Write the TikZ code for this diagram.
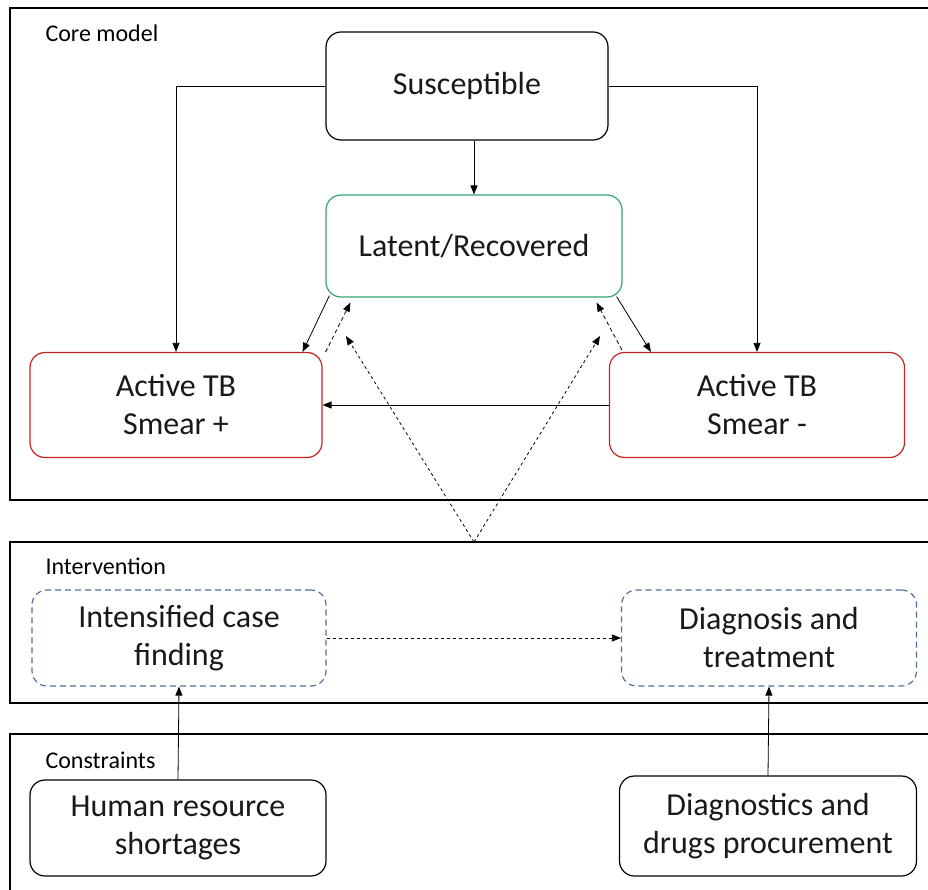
\documentclass[tikz,border=0pt]{standalone}
\usepackage{fontspec}
\setmainfont{Carlito}
\usetikzlibrary{arrows.meta,calc}
\definecolor{latgreen}{RGB}{50,165,110}
\definecolor{actred}{RGB}{200,35,35}
\definecolor{intblue}{RGB}{80,110,160}
\begin{document}
\begin{tikzpicture}[x=1pt, y=-1pt,
        frame/.style={draw, line width=1.4pt},
        state/.style={draw, line width=1.2pt, rounded corners=15pt, align=center,
            font=\fontsize{32}{38}\selectfont, text=black!90},
        interv/.style={state, draw=intblue, dash pattern=on 6pt off 4pt},
        flow/.style={-{Triangle[length=9pt,width=7pt]}, line width=0.8pt},
        back/.style={flow, dash pattern=on 4pt off 3pt},
        effect/.style={flow, dash pattern=on 3pt off 3pt},
        caption/.style={anchor=west, font=\fontsize{24}{28}\selectfont}]
    \useasboundingbox (0,0) rectangle (928,890);

    \draw[frame] (940,8) -| (10,500) -- (940,500);
    \draw[frame] (940,542) -| (10,703) -- (940,703);
    \draw[frame] (940,734) -| (10,900);
    \node[caption] (core) at (42,33) {Core model};
    \node[caption] (intv) at (42,566) {Intervention};
    \node[caption] (cons) at (42,760) {Constraints};

    \node[state, minimum width=282pt, minimum height=108pt] (sus) at (467,86) {Susceptible};
    \node[state, draw=latgreen, minimum width=296pt, minimum height=102pt] (lat) at (474,246) {Latent/Recovered};
    \node[state, draw=actred, minimum width=292pt, minimum height=105pt] (smp) at (176,405) {Active TB\\Smear +};
    \node[state, draw=actred, minimum width=295pt, minimum height=105pt] (smm) at (757,405) {Active TB\\Smear -};

    \node[interv, minimum width=294pt, minimum height=96pt] (icf) at (179,638) {Intensified case\\finding};
    \node[interv, minimum width=295pt, minimum height=96pt] (dat) at (769,638) {Diagnosis and\\treatment};

    \node[state, minimum width=296pt, minimum height=96pt] (hrs) at (178,828) {Human resource\\shortages};
    \node[state, minimum width=297pt, minimum height=100pt] (ddp) at (768,826) {Diagnostics and\\drugs procurement};

    \draw[flow] (sus.west) -| (smp.north);
    \draw[flow] (sus.east) -| (smm.north);
    \draw[flow] (sus.south -| lat.north) -- (lat.north);
    \draw[flow] ($(lat.south west)+(4,-2)$) -- ($(smp.north east)+(-20,0)$);
    \draw[back] ($(smp.north east)+(3,0)$) -- ($(lat.south west)+(25,5)$);
    \draw[flow] ($(lat.south east)+(-6,-1)$) -- ($(smm.north west)+(42,0)$);
    \draw[back] ($(smm.north west)+(13,-2)$) -- ($(lat.south east)+(-26,5)$);
    \draw[flow] (smm.west) -- (smp.east);

    \coordinate (apex) at (474,542);
    \coordinate (tipl) at (346,336);
    \coordinate (tipr) at (600,336);
    \draw[effect] (apex) -- (tipl);
    \draw[effect] (apex) -- (tipr);
    \draw[effect] (icf.east) -- (dat.west);

    \draw[flow] (hrs.north) -- (icf.south);
    \draw[flow] (ddp.north) -- (dat.south);
\end{tikzpicture}
\end{document}
